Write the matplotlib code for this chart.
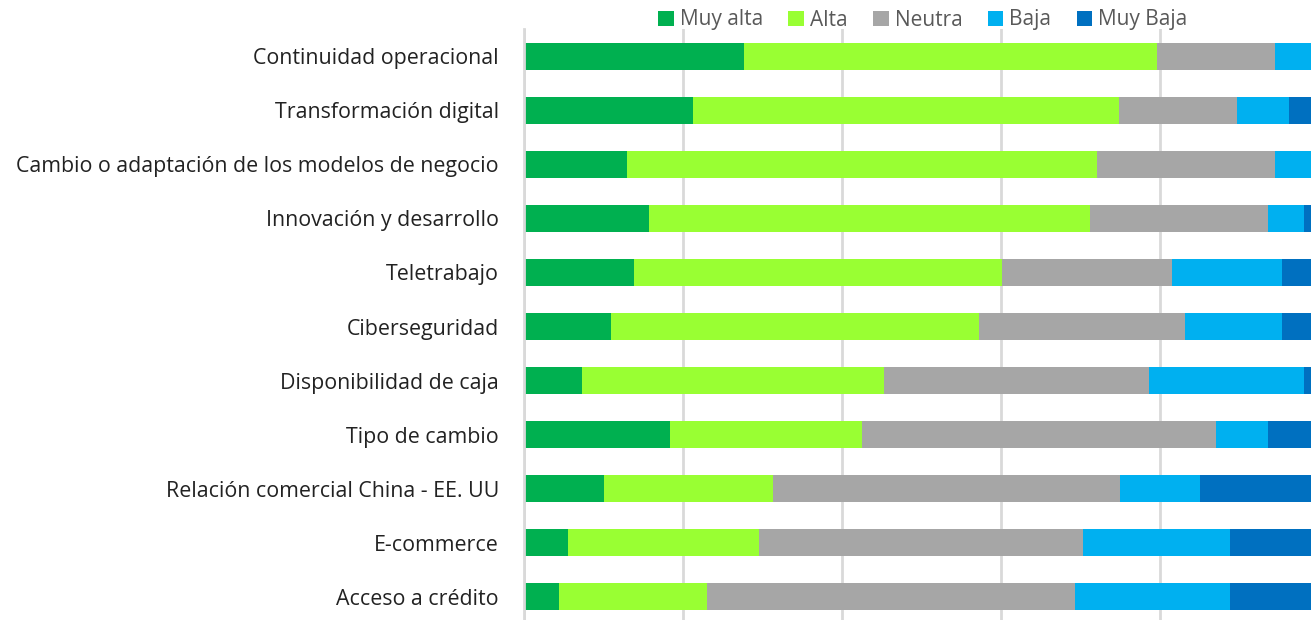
import matplotlib
matplotlib.use("Agg")
import matplotlib.pyplot as plt
import numpy as np

# categories, top to bottom
categories = [
    "Continuidad operacional",
    "Transformación digital",
    "Cambio o adaptación de los modelos de negocio",
    "Innovación y desarrollo",
    "Teletrabajo",
    "Ciberseguridad",
    "Disponibilidad de caja",
    "Tipo de cambio",
    "Relación comercial China - EE. UU",
    "E-commerce",
    "Acceso a crédito",
]

series_names = ["Muy alta", "Alta", "Neutra", "Baja", "Muy Baja"]

# percentages
muy_alta = [27.7, 21.2, 12.9, 15.7, 13.8, 10.9, 7.3, 18.4, 10.1, 5.5, 4.4]
alta = [51.9, 53.7, 59.2, 55.5, 46.3, 46.3, 38.0, 24.1, 21.2, 24.0, 18.6]
neutra = [14.9, 14.8, 22.4, 22.4, 21.4, 26.0, 33.3, 44.5, 43.7, 40.8, 46.3]
baja = [5.5, 6.5, 5.5, 4.5, 13.8, 12.1, 19.5, 6.6, 10.0, 18.5, 19.5]
muy_baja = [0.0, 3.8, 0.0, 1.9, 4.7, 4.7, 1.9, 6.4, 15.0, 11.2, 11.2]

colors = ["#00B050", "#99FF33", "#A6A6A6", "#00B0F0", "#0070C0"]

W, H = 1311, 620
fig = plt.figure(figsize=(W / 100, H / 100), dpi=100)
# plot area: left edge at x=524px, 100% at ~1319px (cropped), rows 29..624px
ax = fig.add_axes([524 / W, (H - 624) / H, 795 / W, 595 / H])

y = np.arange(len(categories))
left = np.zeros(len(categories))
for name, vals, c in zip(series_names, [muy_alta, alta, neutra, baja, muy_baja], colors):
    vals = np.array(vals)
    ax.barh(y, vals, left=left, height=0.5, color=c, label=name, zorder=3)
    left += vals

ax.set_xlim(0, 100)
ax.set_ylim(len(categories) - 0.5, -0.5)
ax.set_yticks(y)
ax.set_yticklabels(categories, fontsize=15.4, color="#222222", family=["Open Sans", "DejaVu Sans"])
ax.tick_params(axis="y", length=0, pad=18)
ax.set_xticks([0, 20, 40, 60, 80, 100])
ax.tick_params(axis="x", length=0, labelbottom=False)
ax.grid(axis="x", color="#D9D9D9", linewidth=2, zorder=0)
for s in ["top", "right", "bottom"]:
    ax.spines[s].set_visible(False)
ax.spines["left"].set_color("#D9D9D9")
ax.spines["left"].set_linewidth(2)
ax.spines["left"].set_zorder(4)

fig.legend(loc="center", bbox_to_anchor=(923 / W, 1 - 20 / H), ncol=5, frameon=False,
           handlelength=0.75, handleheight=0.75, handletextpad=0.3, columnspacing=1.2,
           prop={"family": ["Open Sans", "DejaVu Sans"], "size": 15},
           labelcolor="#595959")

fig.savefig("out.png", dpi=100)
